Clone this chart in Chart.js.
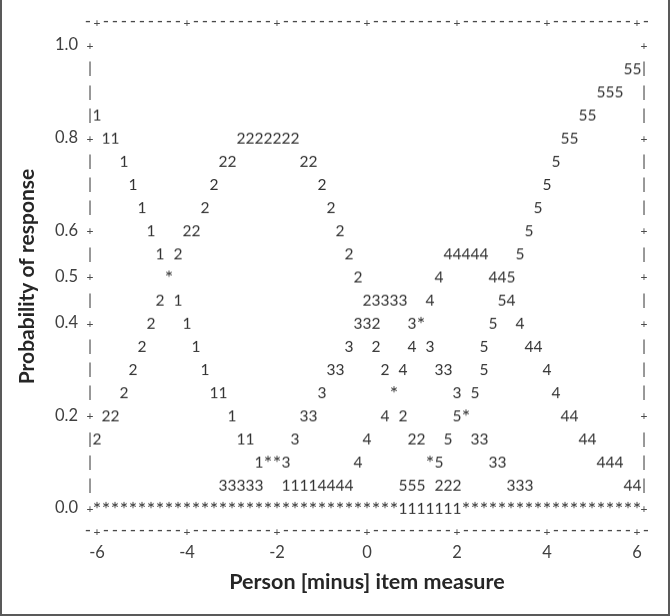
<!DOCTYPE html>
<html>
<head>
<meta charset="utf-8">
<script src="https://cdn.jsdelivr.net/npm/chart.js@4.4.1/dist/chart.umd.min.js"></script>
<style>
  html, body { margin:0; padding:0; background:#fff; }
  #wrap { position:relative; width:670px; height:616px; }
  #frame { position:absolute; left:0; top:0; width:670px; height:616px; box-sizing:border-box;
           border:2px solid #595959; border-top:none; pointer-events:none; }
</style>
</head>
<body>
<div id="wrap"><canvas id="c" width="670" height="616"></canvas><div id="frame"></div></div>
<script>
/* ---- data: [measure, probability] ---- */
const cat1 = [[-6.0,.85],[-5.8,.80],[-5.6,.80],[-5.4,.75],[-5.2,.70],[-5.0,.65],[-4.8,.60],[-4.6,.55],
  [-4.2,.45],[-4.0,.40],[-3.8,.35],[-3.6,.30],[-3.4,.25],[-3.2,.25],[-3.0,.20],[-2.8,.15],[-2.6,.15],
  [-2.4,.10],[-1.8,.05],[-1.6,.05],[-1.4,.05],[-1.2,.05],
  [0.8,0],[1.0,0],[1.2,0],[1.4,0],[1.6,0],[1.8,0],[2.0,0]];
const cat2 = [[-6.0,.15],[-5.8,.20],[-5.6,.20],[-5.4,.25],[-5.2,.30],[-5.0,.35],[-4.8,.40],[-4.6,.45],
  [-4.2,.55],[-4.0,.60],[-3.8,.60],[-3.6,.65],[-3.4,.70],[-3.2,.75],[-3.0,.75],
  [-2.8,.80],[-2.6,.80],[-2.4,.80],[-2.2,.80],[-2.0,.80],[-1.8,.80],[-1.6,.80],
  [-1.4,.75],[-1.2,.75],[-1.0,.70],[-0.8,.65],[-0.6,.60],[-0.4,.55],[-0.2,.50],[0.0,.45],
  [0.2,.40],[0.2,.35],[0.4,.30],[0.8,.20],[1.0,.15],[1.2,.15],[1.6,.05],[1.8,.05],[2.0,.05]];
const cat3 = [[-3.2,.05],[-3.0,.05],[-2.8,.05],[-2.6,.05],[-2.4,.05],[-1.8,.10],[-1.6,.15],[-1.4,.20],[-1.2,.20],
  [-1.0,.25],[-0.8,.30],[-0.6,.30],[-0.4,.35],[-0.2,.40],[0.0,.40],[0.2,.45],[0.4,.45],[0.6,.45],[0.8,.45],
  [1.0,.40],[1.4,.35],[1.6,.30],[1.8,.30],[2.0,.25],[2.4,.15],[2.6,.15],[2.8,.10],[3.0,.10],
  [3.2,.05],[3.4,.05],[3.6,.05]];
const cat4 = [[-1.0,.05],[-0.8,.05],[-0.6,.05],[-0.4,.05],[-0.2,.10],[0.0,.15],[0.4,.20],[0.8,.30],[1.0,.35],
  [1.4,.45],[1.6,.50],[1.8,.55],[2.0,.55],[2.2,.55],[2.4,.55],[2.6,.55],[2.8,.50],[3.0,.50],
  [3.2,.45],[3.4,.40],[3.6,.35],[3.8,.35],[4.0,.30],[4.2,.25],[4.4,.20],[4.6,.20],
  [4.8,.15],[5.0,.15],[5.2,.10],[5.4,.10],[5.6,.10],[5.8,.05],[6.0,.05]];
const cat5 = [[0.8,.05],[1.0,.05],[1.2,.05],[1.6,.10],[1.8,.15],[2.0,.20],[2.4,.25],[2.6,.30],[2.6,.35],
  [2.8,.40],[3.0,.45],[3.2,.50],[3.4,.55],[3.6,.60],[3.8,.65],[4.0,.70],[4.2,.75],[4.4,.80],[4.6,.80],
  [4.8,.85],[5.0,.85],[5.2,.90],[5.4,.90],[5.6,.90],[5.8,.95],[6.0,.95]];
// '*' = two or more categories in the same cell
const ties = [[-4.4,.50],[1.2,.40],[0.6,.25],[2.2,.20],[-2.2,.10],[-2.0,.10],[1.4,.10]];
const tiesAtZero = [-6.0,-5.8,-5.6,-5.4,-5.2,-5.0,-4.8,-4.6,-4.4,-4.2,-4.0,-3.8,-3.6,-3.4,-3.2,-3.0,-2.8,
  -2.6,-2.4,-2.2,-2.0,-1.8,-1.6,-1.4,-1.2,-1.0,-0.8,-0.6,-0.4,-0.2,0.0,0.2,0.4,0.6,
  2.2,2.4,2.6,2.8,3.0,3.2,3.4,3.6,3.8,4.0,4.2,4.4,4.6,4.8,5.0,5.2,5.4,5.6,5.8,6.0];

const xTicks = [-6,-4,-2,0,2,4,6];
const yTicks = [0,0.2,0.4,0.5,0.6,0.8,1.0];

const INK = '#333', RULE = '#4a4a4a';

// each mark is a text glyph, handed to Chart.js as a point style
function glyph(ch) {
  const cv = document.createElement('canvas');
  cv.width = 14; cv.height = 22;
  const g = cv.getContext('2d');
  g.fillStyle = INK; g.textAlign = 'center'; g.textBaseline = 'alphabetic';
  if (ch === '*') { g.font = '20px Lato'; g.fillText(ch, 7, 19.3); }
  else { g.font = '15.5px Lato'; g.fillText(ch, 7, 16.6); }
  return cv;
}

const series = [
  { ch:'1', pts:cat1 }, { ch:'2', pts:cat2 }, { ch:'3', pts:cat3 },
  { ch:'4', pts:cat4 }, { ch:'5', pts:cat5 },
  { ch:'*', pts:ties.concat(tiesAtZero.map(x => [x, 0])) }
];

// the dashed box and the |/+ side rails of the text plot
const asciiFrame = {
  id:'asciiFrame',
  afterDatasetsDraw(chart) {
    const {ctx, scales:{x, y}} = chart;
    ctx.save();
    ctx.fillStyle = RULE; ctx.textAlign = 'center'; ctx.textBaseline = 'middle';
    for (let c = 0; c <= 62; c++) {
      const px = x.getPixelForValue(-6.2 + c * 0.2);
      const plus = c >= 1 && c <= 61 && (c - 1) % 10 === 0;
      for (const v of [1.05, -0.05]) {
        const py = y.getPixelForValue(v);
        if (plus) { ctx.font = '12px Lato'; ctx.fillText('+', px, py + 1); }
        else { ctx.font = '17px Lato'; ctx.fillText('-', px, py); }
      }
    }
    for (let r = 0; r <= 20; r++) {
      const v = Math.round((1 - r * 0.05) * 100) / 100;
      const py = y.getPixelForValue(v);
      const plus = yTicks.includes(v);
      for (const px of [x.getPixelForValue(-6.2) + 2, x.getPixelForValue(6.2) - 2]) {
        if (plus) { ctx.font = '12px Lato'; ctx.fillText('+', px, py + 1); }
        else { ctx.font = '16px Lato'; ctx.fillText('|', px, py); }
      }
    }
    ctx.restore();
  }
};

const tickFont = { family:'Lato', size:16.5 };
const titleFont = { family:'Lato', size:21, weight:'bold' };

new Chart(document.getElementById('c'), {
  type:'scatter',
  data:{
    datasets: series.map(s => ({
      label:s.ch, data:s.pts.map(([x, y]) => ({x, y})),
      pointStyle:glyph(s.ch), pointRadius:4, pointHoverRadius:4
    }))
  },
  options:{
    responsive:false, animation:false, events:[],
    layout:{ padding:{ left:0, right:24, top:22, bottom:0 } },
    plugins:{ legend:{display:false}, tooltip:{enabled:false} },
    scales:{
      x:{ type:'linear', min:-6.2, max:6.2,
        grid:{display:false, drawTicks:false}, border:{display:false},
        afterBuildTicks:s => { s.ticks = xTicks.map(v => ({value:v})); },
        afterFit:s => { s.height = 85; },
        ticks:{ padding:12, color:'#404040', font:tickFont, maxRotation:0, autoSkip:false, callback:v => String(v) },
        title:{ display:true, text:'Person [minus] item measure', color:'#262626',
          font:{ family:'Lato', size:21.5, weight:'bold' }, padding:{top:0, bottom:21} }
      },
      y:{ type:'linear', min:-0.05, max:1.05,
        grid:{display:false, drawTicks:false}, border:{display:false},
        afterBuildTicks:s => { s.ticks = yTicks.map(v => ({value:v})); },
        afterFit:s => { s.width = 88; },
        ticks:{ padding:10, color:'#404040', font:tickFont, autoSkip:false, callback:v => v.toFixed(1) },
        title:{ display:true, text:'Probability of response', color:'#262626', font:titleFont, padding:{top:15, bottom:0} }
      }
    }
  },
  plugins:[asciiFrame]
});
</script>
</body>
</html>
